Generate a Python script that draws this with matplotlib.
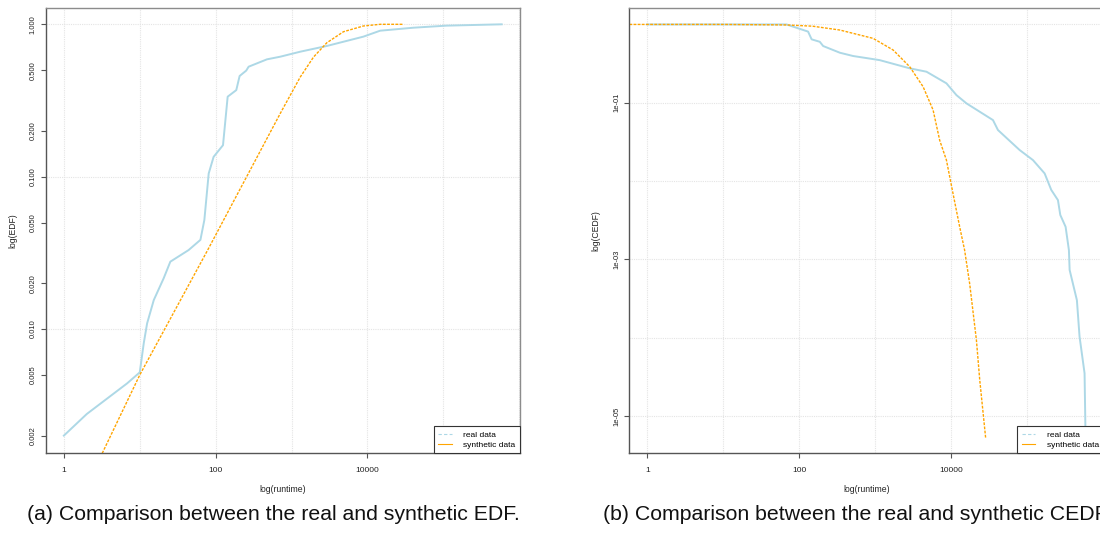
"""
EDF / CEDF comparison of real and synthetic runtimes, log-log.
"""

import numpy as np
import matplotlib
matplotlib.use("Agg")
import matplotlib.pyplot as plt
from matplotlib.ticker import FixedLocator, NullFormatter

plt.rcParams["font.family"] = ["Liberation Sans", "DejaVu Sans"]

# ---- data ------------------------------------------------------------
# (a) EDF
edf_real_x = [1, 2, 6.8, 10, 11.3, 12.5, 15.3, 20.7, 25.3, 44, 63, 71, 81, 94,
              125, 144, 187, 207, 253, 272, 474, 710, 1300, 2920, 8850, 14700,
              40300, 110000, 587000]
edf_real_y = [0.002, 0.00277, 0.0044, 0.0052, 0.0081, 0.0109, 0.0155, 0.0216,
              0.0277, 0.033, 0.0385, 0.052, 0.105, 0.135, 0.161, 0.335, 0.37,
              0.458, 0.497, 0.527, 0.589, 0.613, 0.661, 0.721, 0.83, 0.908,
              0.95, 0.98, 1.0]

edf_syn_x = [3.2, 10, 78.5, 710, 1300, 1950, 2920, 4830, 8850, 14700, 29800]
edf_syn_y = [0.00153, 0.005, 0.033, 0.26, 0.45, 0.61, 0.757, 0.894, 0.975,
             1.0, 1.0]

# (b) CEDF
cedf_real_x = [1, 68, 131, 146, 187, 207, 267, 344, 514, 1150, 2860, 4750,
               8700, 11800, 16000, 35700, 41500, 80000, 120000, 171000,
               209000, 256000, 275000, 323000, 357000, 365000, 455000,
               493000, 574000, 592000]
cedf_real_y = [1.0, 1.0, 0.81, 0.645, 0.6, 0.53, 0.48, 0.435, 0.395, 0.35,
               0.275, 0.249, 0.177, 0.125, 0.098, 0.06, 0.0448, 0.0249,
               0.0185, 0.0125, 0.0077, 0.0057, 0.00368, 0.0026, 0.00131,
               7.3e-4, 3.0e-4, 1.03e-4, 3.5e-5, 5e-6]

cedf_syn_x = [0.58, 10, 68, 150, 344, 942, 1730, 2860, 4290, 5800, 7100,
              8700, 10600, 13000, 15100, 17600, 21600, 23900, 28600]
cedf_syn_y = [1.0, 1.0, 0.985, 0.95, 0.848, 0.664, 0.471, 0.288, 0.16, 0.081,
              0.033, 0.0185, 0.007, 0.0026, 0.00131, 4.9e-4, 9.3e-5, 2.87e-5,
              5.2e-6]

x_ticks = [1, 100, 10000]
edf_yticks = [0.002, 0.005, 0.01, 0.02, 0.05, 0.1, 0.2, 0.5, 1.0]
cedf_yticks = [1e-5, 1e-3, 1e-1]

REAL_COL = "#ADD8E6"
SYN_COL = "#FFA500"
GRID_COL = "#E4E4E4"


def style_axes(ax, xlim, ylim, yticks, ylabels, ylabel, ydecades):
    ax.set_xscale("log")
    ax.set_yscale("log")
    ax.set_xlim(*xlim)
    ax.set_ylim(*ylim)

    ax.xaxis.set_major_locator(FixedLocator(x_ticks))
    ax.set_xticklabels([str(t) for t in x_ticks])
    ax.yaxis.set_major_locator(FixedLocator(yticks))
    ax.set_yticklabels(ylabels, rotation=90, va="center")

    # decade grid, drawn via minor ticks without tick marks
    ax.xaxis.remove_overlapping_locs = False
    ax.yaxis.remove_overlapping_locs = False
    ax.xaxis.set_minor_locator(FixedLocator([10.0 ** k for k in range(0, 7)]))
    ax.yaxis.set_minor_locator(FixedLocator(ydecades))
    ax.xaxis.set_minor_formatter(NullFormatter())
    ax.yaxis.set_minor_formatter(NullFormatter())
    ax.tick_params(which="minor", length=0)
    ax.grid(which="minor", color=GRID_COL, linestyle=(0, (1, 1)), linewidth=0.8)
    ax.set_axisbelow(True)

    ax.tick_params(which="major", length=3.6, width=0.8, color="#555555",
                   labelcolor="#222222")
    ax.tick_params(axis="x", which="major", labelsize=6, pad=6.5)
    ax.tick_params(axis="y", which="major", labelsize=5.5, pad=3)
    for s in ax.spines.values():
        s.set_color("#8c8c8c")
        s.set_linewidth(1.0)
    ax.spines["left"].set_color("#555555")
    ax.spines["bottom"].set_color("#555555")

    ax.set_xlabel("log(runtime)", fontsize=6.2, labelpad=8, color="#222222")
    ax.set_ylabel(ylabel, fontsize=6.2, labelpad=9, color="#222222")

    leg = ax.legend(
        [plt.Line2D([], [], color=REAL_COL, lw=0.8, ls=(0, (3, 2))),
         plt.Line2D([], [], color=SYN_COL, lw=0.8)],
        ["real data", "synthetic data"],
        loc="lower right", bbox_to_anchor=(1.0, 0.0), borderaxespad=0,
        fontsize=6, fancybox=False, framealpha=1, edgecolor="#333333",
        handlelength=1.6, handletextpad=1.4, labelspacing=0.25,
        borderpad=0.55)
    leg.get_frame().set_linewidth(0.8)


fig = plt.figure(figsize=(11, 5.36), dpi=100)

ax_a = fig.add_axes([0.0415, 0.1543, 0.4312, 0.8302])
ax_a.plot(edf_real_x, edf_real_y, color=REAL_COL, lw=1.4)
ax_a.plot(edf_syn_x, edf_syn_y, color=SYN_COL, lw=1.0, ls=(0, (2, 1)))
style_axes(ax_a, (10 ** -0.24, 10 ** 6.01), (10 ** -2.815, 10 ** 0.105),
           edf_yticks,
           ["0.002", "0.005", "0.010", "0.020", "0.050", "0.100", "0.200",
            "0.500", "1.000"],
           "log(EDF)", [1e-3, 1e-2, 1e-1, 1.0])

ax_b = fig.add_axes([0.5721, 0.1543, 0.4312, 0.8302])
ax_b.plot(cedf_real_x, cedf_real_y, color=REAL_COL, lw=1.4)
ax_b.plot(cedf_syn_x, cedf_syn_y, color=SYN_COL, lw=1.0, ls=(0, (2, 1)))
style_axes(ax_b, (10 ** -0.237, 10 ** 6.01), (10 ** -5.478, 10 ** 0.206),
           cedf_yticks, ["1e-05", "1e-03", "1e-01"],
           "log(CEDF)", [10.0 ** k for k in range(-6, 1)])

fig.text(27 / 1100, 1 - 514 / 536,
         "(a) Comparison between the real and synthetic EDF.",
         fontsize=15.3, va="center", ha="left", color="#111111")
fig.text(603 / 1100, 1 - 514 / 536,
         "(b) Comparison between the real and synthetic CEDF.",
         fontsize=15.3, va="center", ha="left", color="#111111")

fig.savefig("out.png", dpi=100)
